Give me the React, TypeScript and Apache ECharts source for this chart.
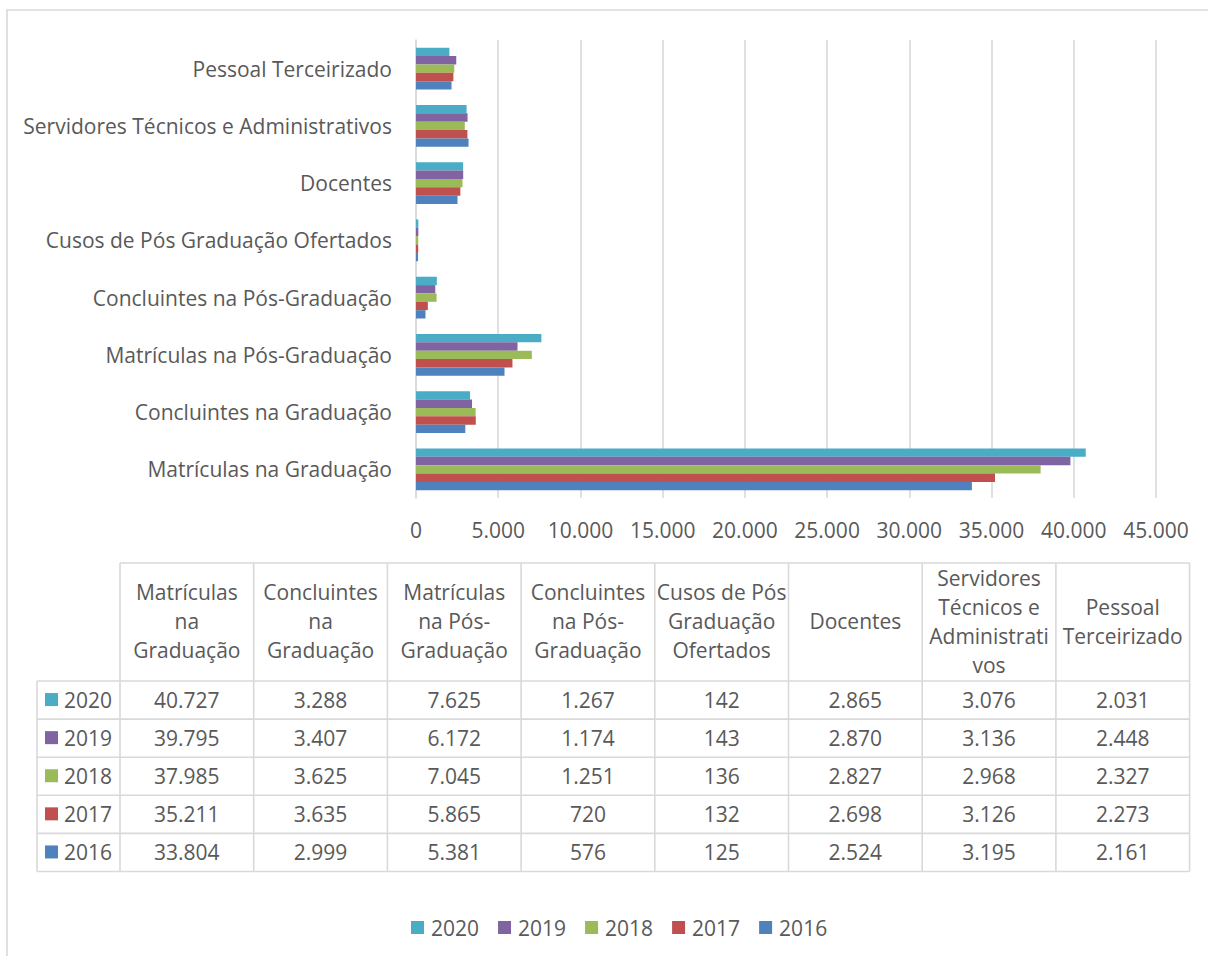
import React, { useEffect, useRef } from "react";
import * as echarts from "echarts";

// Categories listed from the bottom of the bar chart upwards
const categories = [
  "Matrículas na Graduação",
  "Concluintes na Graduação",
  "Matrículas na Pós-Graduação",
  "Concluintes na Pós-Graduação",
  "Cusos de Pós Graduação Ofertados",
  "Docentes",
  "Servidores Técnicos e Administrativos",
  "Pessoal Terceirizado",
];

// Same categories as wrapped in the data table header cells
const tableHeaders = [
  "Matrículas\nna\nGraduação",
  "Concluintes\nna\nGraduação",
  "Matrículas\nna Pós-\nGraduação",
  "Concluintes\nna Pós-\nGraduação",
  "Cusos de Pós\nGraduação\nOfertados",
  "Docentes",
  "Servidores\nTécnicos e\nAdministrati\nvos",
  "Pessoal\nTerceirizado",
];

const years = ["2020", "2019", "2018", "2017", "2016"];

const values2020 = [40727, 3288, 7625, 1267, 142, 2865, 3076, 2031];
const values2019 = [39795, 3407, 6172, 1174, 143, 2870, 3136, 2448];
const values2018 = [37985, 3625, 7045, 1251, 136, 2827, 2968, 2327];
const values2017 = [35211, 3635, 5865, 720, 132, 2698, 3126, 2273];
const values2016 = [33804, 2999, 5381, 576, 125, 2524, 3195, 2161];

const xTicks = { min: 0, max: 45000, interval: 5000 };
const xTickLabels = [
  "0", "5.000", "10.000", "15.000", "20.000",
  "25.000", "30.000", "35.000", "40.000", "45.000",
];

const yearColors: Record<string, string> = {
  "2020": "#4BACC6",
  "2019": "#8064A2",
  "2018": "#9BBB59",
  "2017": "#C0504D",
  "2016": "#4F81BD",
};

const valuesByYear: Record<string, number[]> = {
  "2020": values2020,
  "2019": values2019,
  "2018": values2018,
  "2017": values2017,
  "2016": values2016,
};

const FONT = "'Open Sans', 'Noto Sans', sans-serif";
const TEXT = "#595959";
const LINE = "#d9d9d9";
const FS = 21;

// Thousands separated with a dot (pt-BR style)
const fmt = (n: number) => {
  const digits = String(Math.round(Number(n)));
  let out = "";
  for (let i = 0; i < digits.length; i++) {
    const fromEnd = digits.length - i;
    out += digits[i];
    if (fromEnd > 1 && (fromEnd - 1) % 3 === 0) out += ".";
  }
  return out;
};

function buildTable() {
  const left = 37;
  const colStart = 120;
  const colW = 133.7;
  const headTop = 563;
  const headBottom = 681;
  const rowH = 38.1;
  const right = colStart + colW * tableHeaders.length;
  const bottom = headBottom + rowH * years.length;
  const els: any[] = [];
  const line = (x1: number, y1: number, x2: number, y2: number) =>
    els.push({
      type: "line",
      shape: { x1, y1, x2, y2 },
      style: { stroke: LINE, lineWidth: 1.6 },
      silent: true,
    });

  line(colStart, headTop, right, headTop);
  for (let r = 0; r <= years.length; r++) {
    const y = headBottom + r * rowH;
    line(left, y, right, y);
  }
  line(left, headBottom, left, bottom);
  for (let c = 0; c <= tableHeaders.length; c++) {
    const x = colStart + c * colW;
    line(x, headTop, x, bottom);
  }

  tableHeaders.forEach((h, c) => {
    els.push({
      type: "text",
      x: colStart + (c + 0.5) * colW,
      y: (headTop + headBottom) / 2 - 1,
      style: {
        text: h,
        fill: TEXT,
        fontSize: FS,
        fontFamily: FONT,
        lineHeight: 29,
        align: "center",
        verticalAlign: "middle",
      },
      silent: true,
    });
  });

  years.forEach((yr, r) => {
    const cy = headBottom + (r + 0.5) * rowH;
    els.push({
      type: "rect",
      shape: { x: 45, y: cy - 7, width: 13, height: 13 },
      style: { fill: yearColors[yr] },
      silent: true,
    });
    els.push({
      type: "text",
      x: 64,
      y: cy,
      style: {
        text: yr,
        fill: TEXT,
        fontSize: FS,
        fontFamily: FONT,
        align: "left",
        verticalAlign: "middle",
      },
      silent: true,
    });
    valuesByYear[yr].forEach((v, c) => {
      els.push({
        type: "text",
        x: colStart + (c + 0.5) * colW,
        y: cy,
        style: {
          text: fmt(v),
          fill: TEXT,
          fontSize: FS,
          fontFamily: FONT,
          align: "center",
          verticalAlign: "middle",
        },
        silent: true,
      });
    });
  });
  return els;
}

export default function App() {
  const ref = useRef<HTMLDivElement>(null);

  useEffect(() => {
    if (!ref.current) return;
    const chart = echarts.init(ref.current, undefined, { renderer: "svg" });
    chart.setOption({
      animation: false,
      backgroundColor: "#ffffff",
      textStyle: { fontFamily: FONT, color: TEXT },
      grid: { left: 416, right: 52, top: 40, bottom: 458, containLabel: false },
      xAxis: {
        type: "value",
        min: xTicks.min,
        max: xTicks.max,
        interval: xTicks.interval,
        axisLine: { show: false },
        axisTick: { show: false },
        axisLabel: {
          color: TEXT,
          fontSize: FS,
          fontFamily: FONT,
          margin: 21,
          formatter: (v: number) =>
            xTickLabels[Math.round((v - xTicks.min) / xTicks.interval)] ?? fmt(v),
        },
        splitLine: { show: true, lineStyle: { color: LINE, width: 1.6 } },
      },
      yAxis: {
        type: "category",
        data: categories,
        axisLine: { show: true, lineStyle: { color: LINE, width: 1.6 } },
        axisTick: { show: false },
        axisLabel: {
          color: TEXT,
          fontSize: FS,
          fontFamily: FONT,
          margin: 24,
        },
      },
      legend: {
        data: years,
        left: 406,
        top: 912,
        icon: "rect",
        itemWidth: 13,
        itemHeight: 13,
        itemGap: 19,
        textStyle: { color: TEXT, fontSize: FS, fontFamily: FONT, padding: [0, 0, 0, 2] },
      },
      series: years.map((yr) => ({
        name: yr,
        type: "bar",
        data: valuesByYear[yr],
        barGap: "0%",
        barCategoryGap: "27%",
        itemStyle: { color: yearColors[yr] },
      })),
      graphic: [
        {
          type: "rect",
          shape: { x: 7, y: 10, width: 1400, height: 1200 },
          style: { fill: "none", stroke: LINE, lineWidth: 1.6 },
          silent: true,
          z: -1,
        },
        ...buildTable(),
      ],
    });
    return () => chart.dispose();
  }, []);

  return (
    <div
      ref={ref}
      style={{ position: "absolute", left: 0, top: 0, width: 1208, height: 956 }}
    />
  );
}
